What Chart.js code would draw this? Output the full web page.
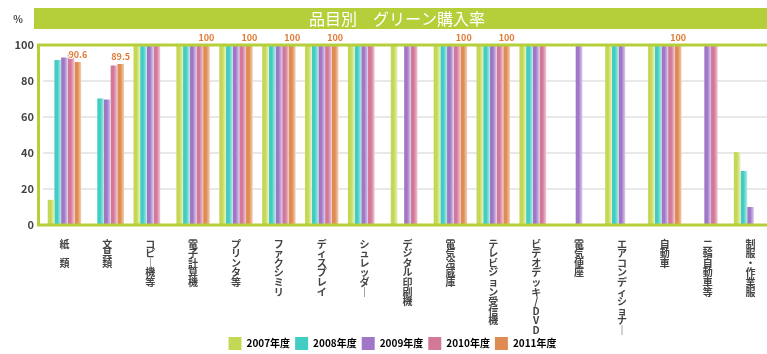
<!DOCTYPE html>
<html>
<head>
<meta charset="utf-8">
<script src="https://cdn.jsdelivr.net/npm/chart.js@4/dist/chart.umd.min.js"></script>
<style>
  html, body { margin: 0; padding: 0; background: #ffffff; overflow: hidden; }
  #wrap { width: 767px; height: 354px; overflow: hidden; position: relative; }
  #c { display: block; }
</style>
</head>
<body>
<div id="wrap"><canvas id="c" width="800" height="354"></canvas></div>
<script>
// ---- data ----
const categories = ['紙　類','文具類','コピー機等','電子計算機','プリンタ等','ファクシミリ','ディスプレイ','シュレッダー','デジタル印刷機','電気冷蔵庫','テレビジョン受信機','ビデオデッキ/DVD','電気便座','エアコンディショナー','自動車','二輪自動車等','制服・作業服'];
const seriesNames = ['2007年度','2008年度','2009年度','2010年度','2011年度'];
const fy2007 = [14, null, 100, 100, 100, 100, 100, 100, 100, 100, 100, 100, null, 100, 100, null, 40.5];
const fy2008 = [91.6, 70.3, 100, 100, 100, 100, 100, 100, null, 100, 100, 100, null, 100, 100, null, 30];
const fy2009 = [93, 69.7, 100, 100, 100, 100, 100, 100, 100, 100, 100, 100, 100, 100, 100, 100, 10];
const fy2010 = [95, 88.6, 100, 100, 100, 100, 100, 100, 100, 100, 100, 100, null, null, 100, 100, null];
const fy2011 = [90.6, 89.5, null, 100, 100, 100, 100, null, null, 100, 100, null, null, null, 100, null, null];
const yTicks = [0, 20, 40, 60, 80, 100];
const chartTitle = '品目別　グリーン購入率';
const unitLabel = '%';

const baseColors  = ['#c4d856', '#42cdc4', '#a077c7', '#d27898', '#de8c52'];
const lightColors = ['#eaf2bd', '#b4ece6', '#ddcdee', '#f0c9d7', '#f4cfb3'];
const lime = '#b5cf3a';
const FONT = "'Noto Sans CJK JP', 'Noto Sans', sans-serif";

function barFill(i) {
  return (ctx) => {
    const el = ctx.element;
    if (!el || !isFinite(el.x) || !isFinite(el.width) || !el.width) return baseColors[i];
    const g = ctx.chart.ctx.createLinearGradient(el.x - el.width / 2, 0, el.x + el.width / 2, 0);
    g.addColorStop(0, baseColors[i]);
    g.addColorStop(0.45, baseColors[i]);
    g.addColorStop(1, lightColors[i]);
    return g;
  };
}

const allSeries = [fy2007, fy2008, fy2009, fy2010, fy2011];

const framePlugin = {
  id: 'frameAndHeader',
  beforeDraw(chart) {
    const c = chart.ctx;
    c.save();
    c.fillStyle = lime;
    c.fillRect(34, 8, 800, 21);
    c.fillStyle = '#ffffff';
    c.font = '16px ' + FONT;
    c.textAlign = 'center';
    c.textBaseline = 'middle';
    c.fillText(chartTitle, 397, 19);
    c.fillStyle = '#444444';
    c.font = 'bold 10px ' + FONT;
    c.textAlign = 'center';
    c.fillText(unitLabel, 18, 19);
    c.restore();
  },
  afterDatasetsDraw(chart) {
    const a = chart.chartArea;
    const c = chart.ctx;
    c.save();
    c.strokeStyle = lime;
    c.lineWidth = 3;
    c.strokeRect(a.left - 4.5, a.top, a.right - a.left + 10, a.bottom - a.top);
    const meta = chart.getDatasetMeta(4);
    c.font = 'bold 9px ' + FONT;
    c.textAlign = 'center';
    c.textBaseline = 'bottom';
    c.lineJoin = 'round';
    meta.data.forEach((el, i) => {
      const v = fy2011[i];
      if (v == null) return;
      const txt = v === 100 ? '100' : v.toFixed(1);
      const y = el.y - 3;
      c.strokeStyle = '#ffffff';
      c.lineWidth = 2;
      c.strokeText(txt, el.x, y);
      c.fillStyle = '#e07b35';
      c.fillText(txt, el.x, y);
    });
    c.restore();
  },
  afterLayout(chart) {
    if (chart.scales.x) chart.scales.x.bottom = chart.height;
    if (chart.legend) {
      chart.legend.top += 6;
      chart.legend.bottom += 6;
    }
  }
};

const chart = new Chart(document.getElementById('c'), {
  type: 'bar',
  data: {
    labels: categories,
    datasets: allSeries.map((d, i) => ({
      label: seriesNames[i],
      data: d,
      backgroundColor: barFill(i),
      borderWidth: 0,
      categoryPercentage: 0.78,
      barPercentage: 1.0
    }))
  },
  options: {
    responsive: false,
    animation: false,
    devicePixelRatio: 1,
    layout: { padding: { top: 45, left: 13, right: 28, bottom: 0 } },
    scales: {
      x: {
        grid: { display: false },
        border: { display: false },
        ticks: {
          autoSkip: false,
          maxRotation: 0,
          minRotation: 0,
          padding: 6,
          color: '#444444',
          font: { family: FONT, size: 10, weight: 'bold', lineHeight: 0.96 },
          callback: function (value) {
            const s = this.getLabelForValue(value);
            return Array.from(s).map(ch => ch === 'ー' ? '｜' : ch);
          }
        },
        afterFit(scale) { scale.height = 101; }
      },
      y: {
        min: 0,
        max: 100,
        afterBuildTicks(scale) { scale.ticks = yTicks.map(v => ({ value: v })); },
        grid: { color: '#e8e8e8', lineWidth: 2, drawTicks: false },
        border: { display: false },
        ticks: {
          padding: 9,
          color: '#444444',
          font: { family: FONT, size: 11, weight: 'bold' }
        },
        afterFit(scale) { scale.width = 30; }
      }
    },
    plugins: {
      title: { display: false },
      tooltip: { enabled: false },
      legend: {
        position: 'bottom',
        labels: {
          boxWidth: 13,
          boxHeight: 13,
          padding: 5,
          color: '#444444',
          font: { family: FONT, size: 10, weight: 'bold' },
          generateLabels(ch) {
            return seriesNames.map((n, i) => ({
              text: n,
              fillStyle: baseColors[i],
              strokeStyle: baseColors[i],
              lineWidth: 0,
              hidden: false,
              datasetIndex: i
            }));
          }
        }
      }
    }
  },
  plugins: [framePlugin]
});
chart.update();
</script>
</body>
</html>
